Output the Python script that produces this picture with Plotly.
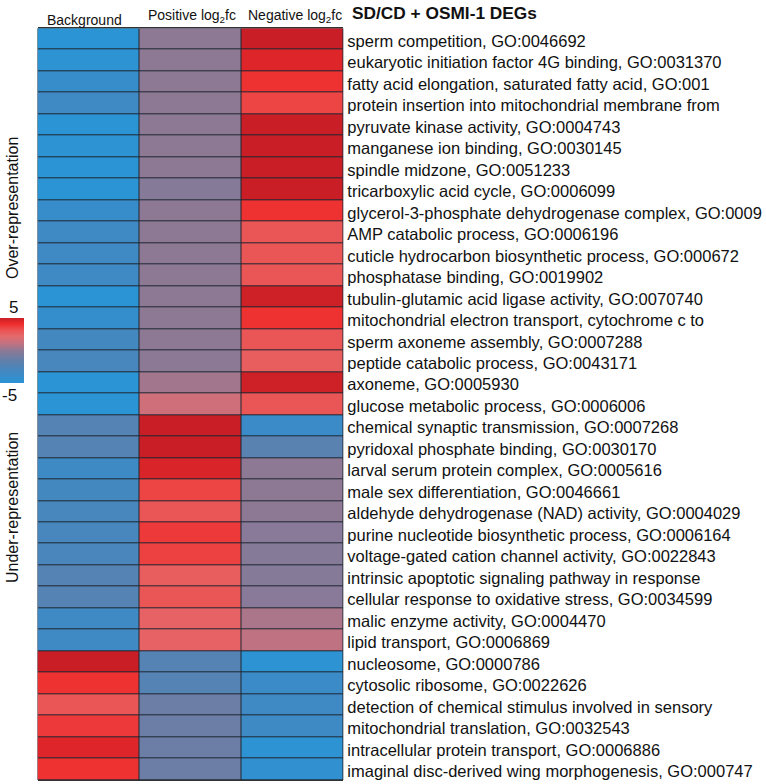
import plotly.graph_objects as go

terms = [
    "sperm competition, GO:0046692",
    "eukaryotic initiation factor 4G binding, GO:0031370",
    "fatty acid elongation, saturated fatty acid, GO:001",
    "protein insertion into mitochondrial membrane from",
    "pyruvate kinase activity, GO:0004743",
    "manganese ion binding, GO:0030145",
    "spindle midzone, GO:0051233",
    "tricarboxylic acid cycle, GO:0006099",
    "glycerol-3-phosphate dehydrogenase complex, GO:0009",
    "AMP catabolic process, GO:0006196",
    "cuticle hydrocarbon biosynthetic process, GO:000672",
    "phosphatase binding, GO:0019902",
    "tubulin-glutamic acid ligase activity, GO:0070740",
    "mitochondrial electron transport, cytochrome c to",
    "sperm axoneme assembly, GO:0007288",
    "peptide catabolic process, GO:0043171",
    "axoneme, GO:0005930",
    "glucose metabolic process, GO:0006006",
    "chemical synaptic transmission, GO:0007268",
    "pyridoxal phosphate binding, GO:0030170",
    "larval serum protein complex, GO:0005616",
    "male sex differentiation, GO:0046661",
    "aldehyde dehydrogenase (NAD) activity, GO:0004029",
    "purine nucleotide biosynthetic process, GO:0006164",
    "voltage-gated cation channel activity, GO:0022843",
    "intrinsic apoptotic signaling pathway in response",
    "cellular response to oxidative stress, GO:0034599",
    "malic enzyme activity, GO:0004470",
    "lipid transport, GO:0006869",
    "nucleosome, GO:0000786",
    "cytosolic ribosome, GO:0022626",
    "detection of chemical stimulus involved in sensory",
    "mitochondrial translation, GO:0032543",
    "intracellular protein transport, GO:0006886",
    "imaginal disc-derived wing morphogenesis, GO:000747",
]

columns = ["Background", "Positive log<sub>2</sub>fc", "Negative log<sub>2</sub>fc"]

background = [-5, -4.8, -4, -3.5, -5, -4.8, -5, -5, -4, -3.5, -3.5, -3.5, -5, -4.2, -3.2, -3, -5, -5,
              -2.2, -2.2, -3.6, -3.2, -3, -3, -2.8, -2.2, -2.2, -3.5, -3.5,
              5, 4.0, 3.0, 3.8, 4.5, 4.0]
positive = [0, 0, 0, 0, 0, 0, 0, -0.3, 0, 0, 0, 0, 0, 0, 0, -0.1, 0.4, 1.5,
            5, 5, 4.6, 3.5, 3.0, 3.8, 3.6, 2.7, 3.0, 2.5, 2.5,
            -2.2, -2.2, -1.2, -1.2, -1.2, -1.2]
negative = [5, 4.5, 4.0, 3.5, 5, 5, 5, 5, 4.0, 3.0, 3.0, 3.0, 4.9, 4.0, 3.0, 2.7, 4.9, 3.0,
            -3.8, -2.0, 0, 0, 0, -0.2, -0.3, -0.3, -0.2, 0.6, 1.0,
            -4.8, -3.8, -3.5, -3.6, -4.8, -4.5]

z = [[b, p, n] for b, p, n in zip(background, positive, negative)]

colorscale = [
    [0.0, "#2a94d5"], [0.12, "#3a8bc8"], [0.25, "#4f84b7"], [0.35, "#647fa9"],
    [0.5, "#8e7995"], [0.6, "#bf7282"], [0.72, "#e46a6c"], [0.82, "#ec5050"],
    [0.91, "#ee2d2d"], [1.0, "#c91e26"],
]

W, H = 766, 784
x0, x1 = 37.5, 343.3
y0, y1 = 28.3, 780.0

fig = go.Figure(go.Heatmap(
    z=z, x=columns, y=terms, zmin=-5, zmax=5, colorscale=colorscale,
    xgap=1, ygap=1,
    colorbar=dict(
        thickness=24, thicknessmode="pixels", len=65, lenmode="pixels",
        x=0, xanchor="left", xref="container", y=1 - 350.5 / H, yanchor="middle",
        xpad=0, ypad=0, outlinewidth=0, showticklabels=False, ticks="",
    ),
))

font = "Liberation Sans, Arial, sans-serif"
fig.update_layout(
    width=W, height=H, margin=dict(l=0, r=0, t=0, b=0, autoexpand=False),
    paper_bgcolor="white", plot_bgcolor="#1e2630",
    font=dict(family=font, color="#111", size=16),
    xaxis=dict(domain=[x0 / W, x1 / W], showticklabels=False, ticks="",
               showgrid=False, zeroline=False, showline=True, mirror=True,
               linecolor="#333", linewidth=1, automargin=False),
    yaxis=dict(domain=[1 - y1 / H, 1 - y0 / H], autorange="reversed", side="right",
               showgrid=False, zeroline=False, ticks="", ticklabelstandoff=3,
               ticklabelshift=-2,
               tickfont=dict(size=16.5, family=font, color="#111"),
               showline=False, automargin=False),
)

ann = [
    dict(text="<b>SD/CD + OSMI-1 DEGs</b>", x=350 / W, y=1 - 13 / H, xanchor="left",
         yanchor="middle", font=dict(size=17.3)),
    dict(text="Background", x=84 / W, y=1 - 20 / H, xanchor="center", yanchor="middle",
         font=dict(size=14)),
    dict(text="Positive log<sub>2</sub>fc", x=192 / W, y=1 - 16 / H, xanchor="center",
         yanchor="middle", font=dict(size=14)),
    dict(text="Negative log<sub>2</sub>fc", x=295 / W, y=1 - 16 / H, xanchor="center",
         yanchor="middle", font=dict(size=14)),
    dict(text="5", x=13 / W, y=1 - 307 / H, xanchor="center", yanchor="middle",
         font=dict(size=17)),
    dict(text="-5", x=9 / W, y=1 - 396 / H, xanchor="center", yanchor="middle",
         font=dict(size=17)),
    dict(text="Over-representation", x=12 / W, y=1 - 208 / H, xanchor="center",
         yanchor="middle", textangle=-90, font=dict(size=16)),
    dict(text="Under-representation", x=12 / W, y=1 - 508 / H, xanchor="center",
         yanchor="middle", textangle=-90, font=dict(size=16)),
]
for a in ann:
    a.update(xref="paper", yref="paper", showarrow=False)
fig.update_layout(annotations=ann)

fig.write_html("out.html", config={"displayModeBar": False},
               post_script="document.body.style.margin='0';document.body.style.overflow='hidden';")
